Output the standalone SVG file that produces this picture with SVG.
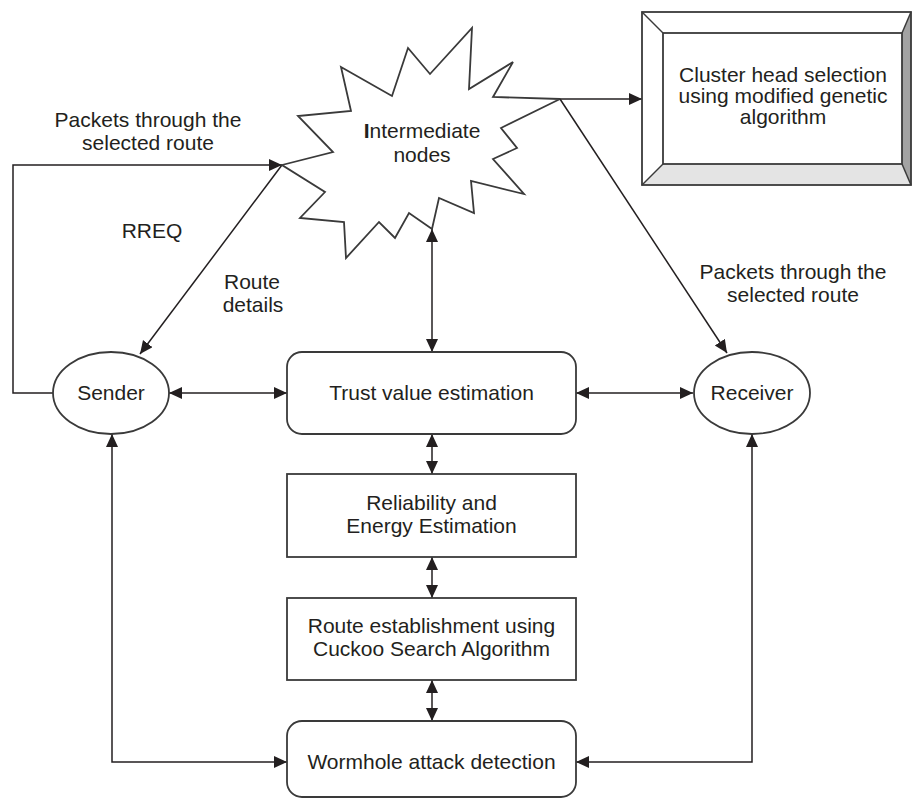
<svg xmlns="http://www.w3.org/2000/svg" width="912" height="799" viewBox="0 0 912 799">
<style>
  text { font-family: "Liberation Sans", Arial, sans-serif; font-size: 21px; fill: #231f20; text-anchor: middle; }
  .shape { fill: #ffffff; stroke: #3a3a3a; stroke-width: 1.8; }
  .conn { fill: none; stroke: #231f20; stroke-width: 1.5; }
  .arr { marker-end: url(#ah); }
  .arr2 { marker-start: url(#ah); marker-end: url(#ah); }
</style>
<defs>
  <marker id="ah" markerUnits="userSpaceOnUse" markerWidth="14" markerHeight="13" refX="13" refY="6" orient="auto-start-reverse">
    <path d="M0,0 L13,6 L0,12 z" fill="#231f20"/>
  </marker>
</defs>
<rect width="912" height="799" fill="#ffffff"/>

<g id="connectors">
  <polyline class="conn arr" points="53,393 13,393 13,165 282,165"/>
  <line class="conn arr" x1="282" y1="165" x2="140" y2="354"/>
  <line class="conn arr" x1="560" y1="99" x2="642" y2="99"/>
  <line class="conn arr" x1="560" y1="99" x2="727" y2="353"/>
  <line class="conn arr2" x1="432" y1="229" x2="432" y2="352"/>
  <line class="conn arr2" x1="169" y1="393" x2="287" y2="393"/>
  <line class="conn arr2" x1="576" y1="393" x2="693" y2="393"/>
  <line class="conn arr2" x1="432" y1="434" x2="432" y2="474"/>
  <line class="conn arr2" x1="432" y1="557" x2="432" y2="598"/>
  <line class="conn arr2" x1="432" y1="680" x2="432" y2="721"/>
  <polyline class="conn arr2" points="112,434 112,762 287,762"/>
  <polyline class="conn arr2" points="752,434 752,762 576,762"/>
</g>

<g id="intermediate">
  <polygon class="shape" stroke-width="1.5" points="472,28 469,89 513,62 493,97 560,99 501,128 517,148 493,159 524,194 471,181 474,213 439,198 432,229 409,213 395,238 379,222 346,258 344,222 300,218 325,192 282,165 333,152 298,116 351,111 341,67 392,96 408,48 430,74"/>
  <text x="422" y="138"><tspan font-weight="bold">I</tspan>ntermediate</text>
  <text x="422" y="162">nodes</text>
</g>

<g id="cluster">
  <rect x="642" y="12" width="269" height="173" fill="#ffffff" stroke="none"/>
  <polygon points="642,185 663,164 902,164 911,185" fill="#e4e4e4"/>
  <polygon points="911,12 902,33 902,164 911,185" fill="#a3a3a3"/>
  <rect x="642" y="12" width="269" height="173" fill="none" stroke="#3a3a3a" stroke-width="1.8"/>
  <rect x="663" y="33" width="239" height="131" fill="#ffffff" stroke="#3a3a3a" stroke-width="1.8"/>
  <g stroke="#3a3a3a" stroke-width="1.5">
    <line x1="642" y1="12" x2="663" y2="33"/>
    <line x1="911" y1="12" x2="902" y2="33"/>
    <line x1="642" y1="185" x2="663" y2="164"/>
    <line x1="911" y1="185" x2="902" y2="164"/>
  </g>
  <text x="783" y="82">Cluster head selection</text>
  <text x="783" y="103">using modified genetic</text>
  <text x="783" y="124">algorithm</text>
</g>

<g id="labels">
  <text x="148" y="127">Packets through the</text>
  <text x="148" y="150">selected route</text>
  <text x="152" y="238">RREQ</text>
  <text x="252" y="289">Route</text>
  <text x="253" y="312">details</text>
  <text x="793" y="279">Packets through the</text>
  <text x="793" y="302">selected route</text>
</g>

<g id="sender">
  <ellipse class="shape" cx="111" cy="393" rx="58" ry="41"/>
  <text x="111" y="400">Sender</text>
</g>

<g id="trust">
  <rect class="shape" x="287" y="352" width="289" height="82" rx="15" ry="15"/>
  <text x="431.5" y="400">Trust value estimation</text>
</g>

<g id="receiver">
  <ellipse class="shape" cx="752" cy="393" rx="58" ry="41"/>
  <text x="752" y="400">Receiver</text>
</g>

<g id="reliability">
  <rect class="shape" x="287" y="474" width="289" height="83"/>
  <text x="431.5" y="510">Reliability and</text>
  <text x="431.5" y="533">Energy Estimation</text>
</g>

<g id="route">
  <rect class="shape" x="287" y="598" width="289" height="82"/>
  <text x="431.5" y="633">Route establishment using</text>
  <text x="431.5" y="656">Cuckoo Search Algorithm</text>
</g>

<g id="wormhole">
  <rect class="shape" x="287" y="721" width="289" height="76" rx="15" ry="15"/>
  <text x="431.5" y="769">Wormhole attack detection</text>
</g>
</svg>
